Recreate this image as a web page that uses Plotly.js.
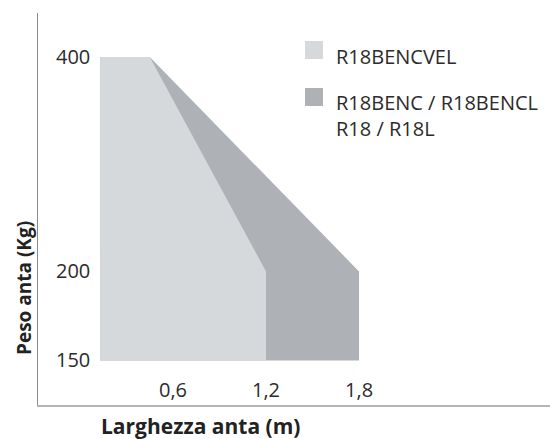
<!DOCTYPE html>
<html>
<head>
<meta charset="utf-8">
<script src="https://cdn.plot.ly/plotly-3.0.1.min.js"></script>
<style>
  html, body { margin: 0; padding: 0; background: #ffffff; }
  #chart { width: 550px; height: 439px; }
</style>
</head>
<body>
<div id="chart"></div>
<script>
// ---- data ----
const seriesNames = ["R18BENCVEL", "R18BENC / R18BENCL<br>R18 / R18L"];
// envelope of R18BENCVEL (width m, weight kg)
const velWidth  = [0.13, 0.45, 1.2, 1.2, 0.13];
const velWeight = [400, 400, 200, 150, 150];
// envelope of R18BENC / R18BENCL / R18 / R18L
const stdWidth  = [0.13, 0.45, 1.8, 1.8, 0.13];
const stdWeight = [400, 400, 200, 150, 150];
// ticks
const xTickVals = [0.6, 1.2, 1.8];
const xTickText = ["0,6", "1,2", "1,8"];
const yTickVals = [150, 200, 400];
const yTickText = ["150", "200", "400"];
const xTitle = "Larghezza anta (m)";
const yTitle = "Peso anta (Kg)";

const colors = ["#d6d9dc", "#aeb1b5"];
const FONT = "Open Sans, Noto Sans, sans-serif";
const TXT = "#2b2b2b";

const traces = [
  { x: stdWidth, y: stdWeight, type: "scatter", mode: "none", fill: "toself",
    fillcolor: colors[1], name: seriesNames[1], showlegend: false, hoverinfo: "skip" },
  { x: velWidth, y: velWeight, type: "scatter", mode: "none", fill: "toself",
    fillcolor: colors[0], name: seriesNames[0], showlegend: false, hoverinfo: "skip" }
];

// manual legend (squares + labels); y in paper units of plot area
const legendSq = [
  { y0: 0.8827, y1: 0.9286, ty: 0.9286 },
  { y0: 0.7628, y1: 0.8087, ty: 0.8110 }
];
const shapes = legendSq.map((s, i) => ({
  type: "rect", xref: "paper", yref: "paper",
  x0: 0.5215, x1: 0.5566, y0: s.y0, y1: s.y1,
  fillcolor: colors[i], line: { width: 0 }
}));
const annotations = legendSq.map((s, i) => ({
  xref: "paper", yref: "paper", x: 0.578, y: s.ty,
  xanchor: "left", yanchor: "top", align: "left", showarrow: false,
  text: seriesNames[i], font: { family: FONT, size: 20, color: TXT }
}));
annotations.push({
  xref: "paper", yref: "paper", x: 0.318, y: -0.054,
  xanchor: "center", yanchor: "middle", showarrow: false,
  text: "<b>" + xTitle + "</b>", font: { family: FONT, size: 21, color: "#222" }
});
annotations.push({
  xref: "paper", yref: "paper", x: -0.0273, y: 0.2985, textangle: -90,
  xanchor: "center", yanchor: "middle", showarrow: false,
  text: "<b>" + yTitle + "</b>", font: { family: FONT, size: 19, color: "#222" }
});

const layout = {
  width: 550, height: 439,
  margin: { l: 38, r: 0, t: 13, b: 34 },
  paper_bgcolor: "#ffffff", plot_bgcolor: "#ffffff",
  showlegend: false,
  xaxis: {
    range: [-0.271, 3.032], showgrid: false, zeroline: false,
    showline: true, linecolor: "#b5b5b5", linewidth: 2,
    tickvals: xTickVals, ticktext: xTickText, ticks: "",
    ticklabelposition: "inside", ticklabelstandoff: 5,
    tickfont: { family: FONT, size: 20, color: TXT }, fixedrange: true
  },
  yaxis: {
    type: "log", range: [2.11345, 2.664], showgrid: false, zeroline: false,
    showline: true, linecolor: "#8a8a8a", linewidth: 1.5,
    tickvals: yTickVals, ticktext: yTickText, ticks: "",
    ticklabelposition: "inside", ticklabelstandoff: 19,
    tickfont: { family: FONT, size: 20, color: TXT }, fixedrange: true
  },
  shapes: shapes,
  annotations: annotations
};

Plotly.newPlot("chart", traces, layout, { displayModeBar: false, staticPlot: true });
</script>
</body>
</html>
